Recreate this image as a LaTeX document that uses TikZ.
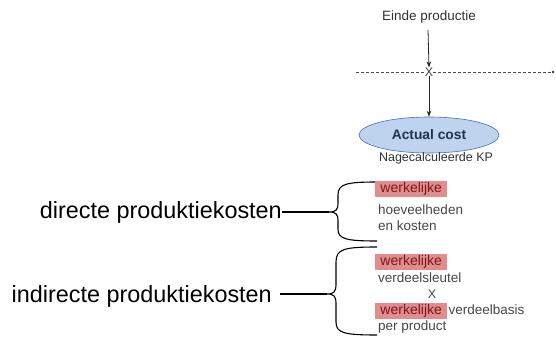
\documentclass[tikz,border=0pt]{standalone}
\usepackage{fontspec}
\setmainfont{Liberation Sans}
\usetikzlibrary{shapes.geometric,arrows.meta}
\definecolor{txtgray}{RGB}{70,70,70}
\definecolor{hlfill}{RGB}{226,140,140}
\definecolor{hltext}{RGB}{120,25,30}
\definecolor{ellfill}{RGB}{190,212,238}
\definecolor{elldraw}{RGB}{70,110,170}
\definecolor{elltext}{RGB}{35,50,80}
\tikzset{
  small/.style={font=\fontsize{13.5}{15}\selectfont, text=txtgray, inner sep=0pt},
  big/.style={font=\fontsize{23.4}{27}\selectfont, text=black, inner sep=0pt},
  hl/.style={fill=hlfill, text=hltext, font=\fontsize{14}{15}\selectfont, minimum width=72pt, minimum height=16pt, inner sep=0pt},
  arr/.style={draw=black!85, line width=0.8pt, -{Stealth[length=6pt,width=4.5pt]}},
  bracestyle/.style={draw=black, line width=1.1pt},
}
\begin{document}
\begin{tikzpicture}[x=1pt,y=-1pt]
\useasboundingbox (0,0) rectangle (556,339);
% top part
\node[small, text=black!80] (einde) at (429,17) {Einde productie};
\node[small, font=\fontsize{12.5}{14}\selectfont] (x1) at (429,72) {X};
\coordinate (dl) at (356,72);
\coordinate (dr) at (553,72);
\draw[black!70, line width=0.6pt, dash pattern=on 3pt off 2pt] (dl) -- (x1.west);
\draw[black!70, line width=0.6pt, dash pattern=on 3pt off 2pt] (x1.east) -- (dr);
\fill[black!80] (dr) circle (1.3);
\node[ellipse, draw=elldraw, fill=ellfill, line width=0.6pt, minimum width=140pt, minimum height=36pt, inner sep=0pt, font=\bfseries\fontsize{13.8}{15}\selectfont, text=elltext] (ac) at (429,135) {Actual cost};
\draw[arr] (428,30) -- (x1.north);
\draw[arr] (x1.south) -- (ac.north);
\node[small, text=black!80, font=\fontsize{12.5}{15}\selectfont] (nk) at (436,158) {Nagecalculeerde KP};
% big labels
\node[big, anchor=east] (dir) at (282,212) {directe produktiekosten};
\node[big, anchor=east] (ind) at (272,296) {indirecte produktiekosten};
% braces
\coordinate (t1) at (329,212);
\coordinate (t2) at (327,294);
\draw[bracestyle] (377,182) .. controls (346,182) and (338,184) .. (338,195) -- (338,203) .. controls (338,210) and (336,212) .. (t1) .. controls (336,212) and (338,214) .. (338,221) -- (338,229) .. controls (338,239) and (346,241) .. (377,241);
\draw[bracestyle] (377,247) .. controls (344,247) and (336,249) .. (336,262) -- (336,284) .. controls (336,292) and (334,294) .. (t2) .. controls (334,294) and (336,296) .. (336,304) -- (336,322) .. controls (336,333) and (344,335) .. (377,335);
\draw[bracestyle] (dir.east) -- (t1);
\draw[bracestyle] (280,294) -- (t2);
% right texts
\node[hl, anchor=west] (w1) at (375,189) {werkelijke};
\node[small, anchor=west] (h1) at (378,210) {hoeveelheden};
\node[small, anchor=west] (h2) at (378,226) {en kosten};
\node[hl, anchor=west] (w2) at (375,261.5) {werkelijke};
\node[small, anchor=west] (v1) at (378,278) {verdeelsleutel};
\node[small, font=\fontsize{12.5}{14}\selectfont] (x2) at (432,294) {X};
\node[hl, anchor=west] (w3) at (375,310.5) {werkelijke};
\node[small, anchor=base west, xshift=1pt] (v2) at (w3.base east) {verdeelbasis};
\node[small, anchor=west] (pp) at (378,327) {per product};
\end{tikzpicture}
\end{document}
